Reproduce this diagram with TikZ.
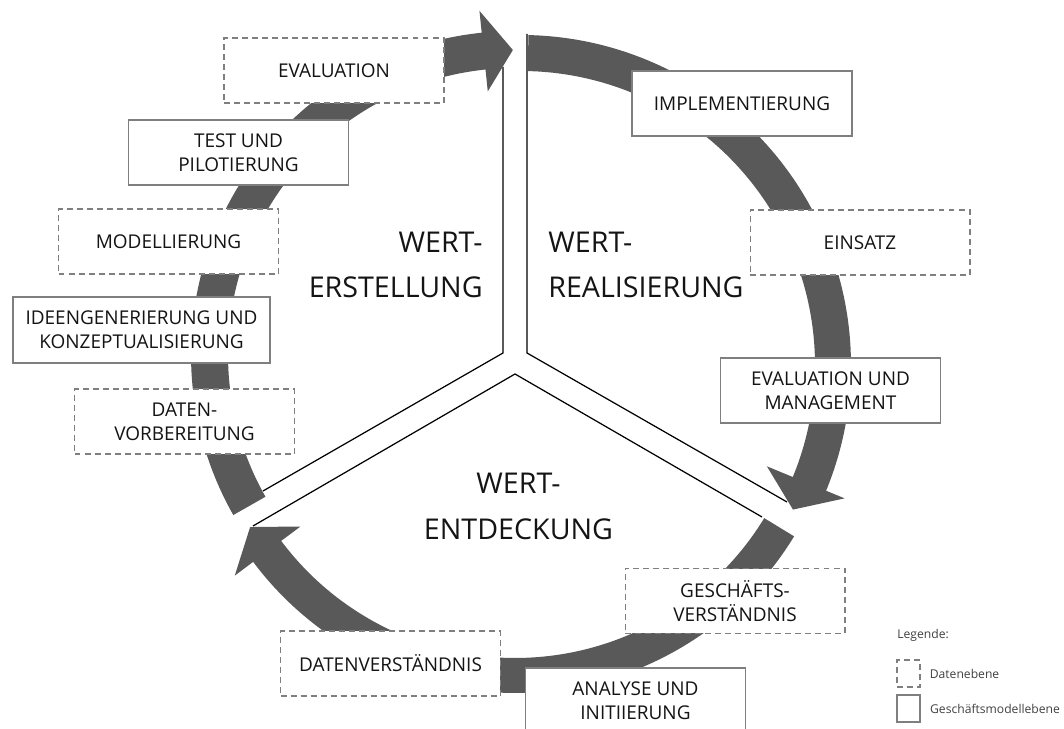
\documentclass[tikz,border=0pt]{standalone}
\usepackage{fontspec}
\setmainfont{Open Sans}
\usetikzlibrary{positioning}
\definecolor{bandgray}{HTML}{595959}
\definecolor{framegray}{HTML}{7F7F7F}
\definecolor{txtgray}{HTML}{141414}
\tikzset{
  band/.style    ={fill=bandgray},
  divider/.style ={line width=0.7pt, black},
  databox/.style ={draw=framegray, fill=white, line width=0.6pt,
                   dash pattern=on 3.4pt off 2.3pt,
                   minimum width=4.4cm, minimum height=1.3cm,
                   inner sep=1pt, align=center, text=txtgray,
                   font=\fontsize{10.8}{13.6}\selectfont},
  bizbox/.style  ={draw=framegray, fill=white, line width=0.9pt,
                   minimum width=4.4cm, minimum height=1.3cm,
                   inner sep=1pt, align=center, text=txtgray,
                   font=\fontsize{10.8}{13.6}\selectfont},
  phase/.style   ={inner sep=0pt, text=txtgray,
                   font=\fontsize{16.3}{25.5}\selectfont},
  legtxt/.style  ={inner sep=0pt, anchor=west, text=black!75,
                   font=\fontsize{6.9}{9}\selectfont},
}

\begin{document}
\begin{tikzpicture}[x=0.02cm, y=0.02cm]
  \useasboundingbox (0,0) rectangle (1064,729);
  \clip (0,0) rectangle (1064,729);

  % Y-shaped divider between the three phases
  \coordinate (yl) at (503,376);
  \coordinate (yr) at (527,376);
  \coordinate (yb) at (515,355);
  \coordinate (ytl) at (503,662);
  \coordinate (ytr) at (527,695);
  \coordinate (yll) at (263,238);
  \coordinate (yrr) at (787,227);
  \coordinate (ybl) at (253,203);
  \coordinate (ybr) at (762,212);
  \draw[divider] (ytl) -- (yl) -- (yll);
  \draw[divider] (ytr) -- (yr) -- (yrr);
  \draw[divider] (ybl) -- (yb) -- (ybr);

  % circular arrows
  \begin{scope}[shift={(521,364)}]
    \fill[band] (88.7:330) arc[start angle=88.7, end angle=-22.4, radius=330]
      -- (-22.4:350) -- (-28:308) -- (-22.4:266) -- (-22.4:294)
      arc[start angle=-22.4, end angle=88.7, radius=294] -- cycle;
  \end{scope}
  \begin{scope}[shift={(515,363)}]
    \fill[band] (-31.4:327) arc[start angle=-31.4, end angle=-143.2, radius=327]
      -- (-143.2:350) -- (-148.7:310) -- (-143.2:268) -- (-143.2:292)
      arc[start angle=-143.2, end angle=-31.4, radius=292] -- cycle;
  \end{scope}
  \begin{scope}[shift={(515,374)}]
    \fill[band] (209.6:324) arc[start angle=209.6, end angle=95.9, radius=324]
      -- (95.9:346) -- (90.4:305) -- (95.9:265) -- (95.9:287)
      arc[start angle=95.9, end angle=209.6, radius=287] -- cycle;
  \end{scope}

  % phase steps
  \node[databox] (eval)  at (334,658.5) {EVALUATION};
  \node[bizbox]  (test)  at (238.5,576.5) {TEST UND\\PILOTIERUNG};
  \node[databox] (model) at (168.5,487.5) {MODELLIERUNG};
  \node[bizbox, minimum width=5.14cm, minimum height=1.32cm] (idee)
    at (141.5,399) {IDEENGENERIERUNG UND\\KONZEPTUALISIERUNG};
  \node[databox] (prep)  at (184.5,307.5) {DATEN-\\VORBEREITUNG};
  \node[bizbox]  (impl)  at (742,625.5) {IMPLEMENTIERUNG};
  \node[databox] (einsatz) at (860,486.5) {EINSATZ};
  \node[bizbox]  (evman) at (830.5,338.5) {EVALUATION UND\\MANAGEMENT};
  \node[databox] (gesch) at (735,128) {GESCHÄFTS-\\VERSTÄNDNIS};
  \node[databox] (datv)  at (390.5,65.5) {DATENVERSTÄNDNIS};
  \node[bizbox]  (anal)  at (635.5,28.5) {ANALYSE UND\\INITIIERUNG};

  % phase names
  \node[phase, anchor=east, align=right] (erst) at (483,463.7)
    {WERT-\\ERSTELLUNG};
  \node[phase, anchor=west, align=left] (real) at (548,463.7)
    {WERT-\\REALISIERUNG};
  \node[phase, align=center, font=\fontsize{16.3}{26.6}\selectfont]
    (entd) at (518.5,222.7) {WERT-\\ENTDECKUNG};

  % legend
  \node[legtxt] (legtitle) at (897,94) {Legende:};
  \node[draw=framegray, line width=0.6pt, dash pattern=on 3.4pt off 2.3pt,
        minimum width=0.46cm, minimum height=0.54cm, inner sep=0pt]
    (legdata) at (908.5,55.5) {};
  \node[draw=framegray, line width=0.9pt,
        minimum width=0.46cm, minimum height=0.54cm, inner sep=0pt]
    (legbiz) at (908.5,20.5) {};
  \node[legtxt, right=0.18cm of legdata] (legdtxt) {Datenebene};
  \node[legtxt, right=0.18cm of legbiz] (legbtxt) {Geschäftsmodellebene};
\end{tikzpicture}
\end{document}
